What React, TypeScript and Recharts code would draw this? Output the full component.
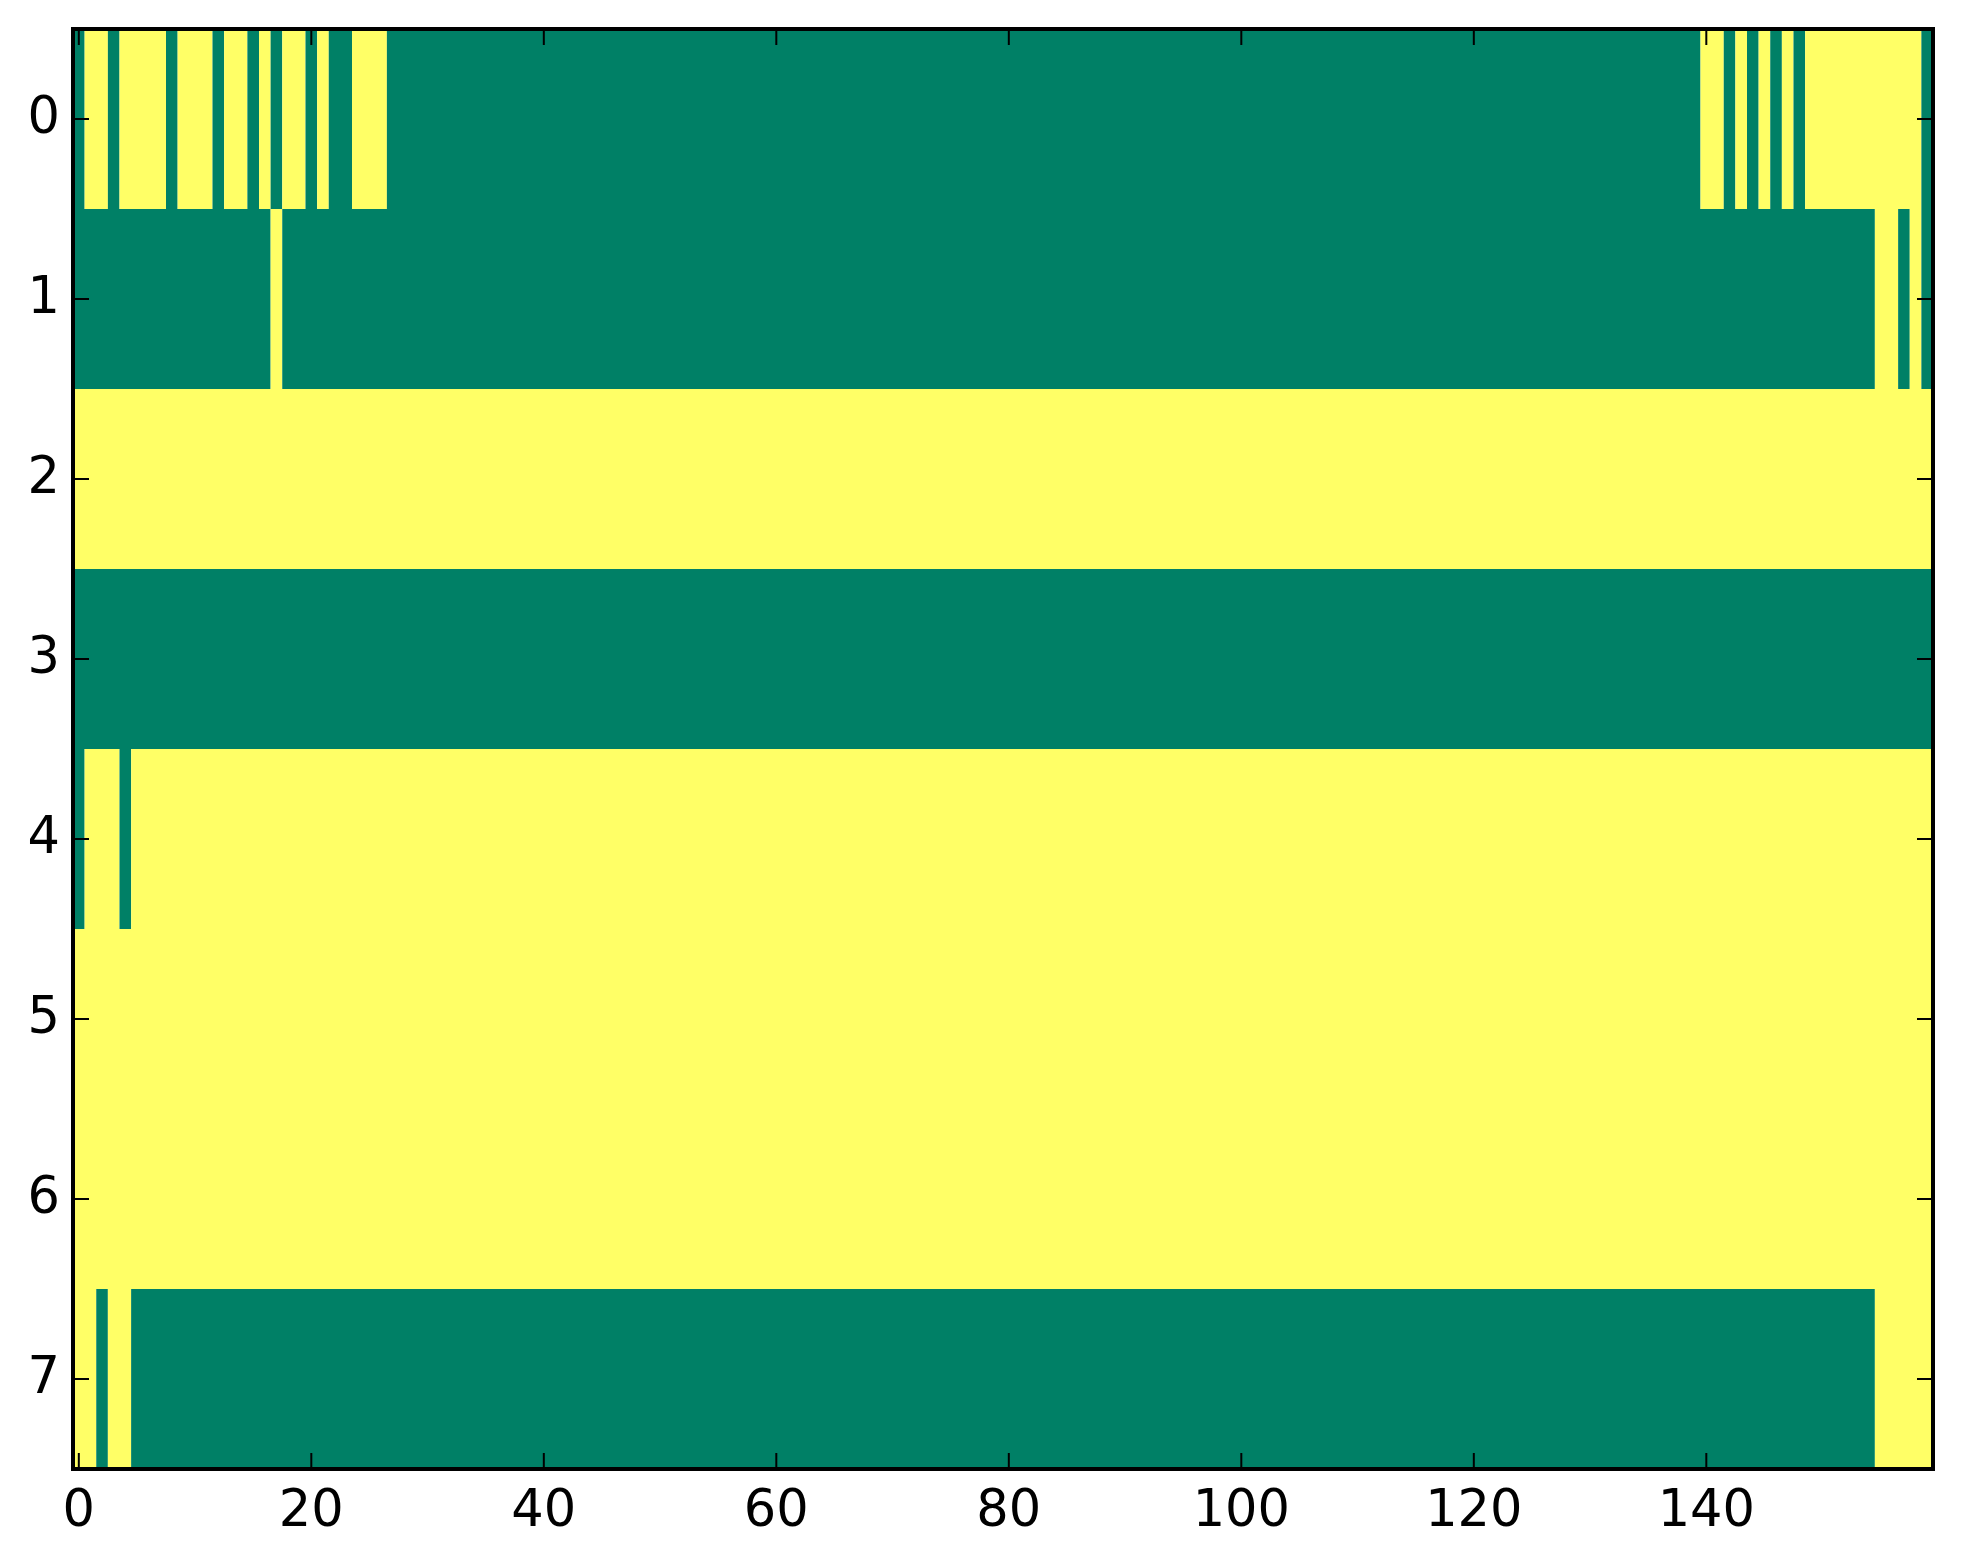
import React from "react";
import {
  ScatterChart, Scatter, XAxis, YAxis, ReferenceArea
} from "recharts";

// binary heatmap, 8 rows x 160 columns, "summer" colours
const GREEN = "#008066";
const YELLOW = "#ffff66";

const xTicks = [0, 20, 40, 60, 80, 100, 120, 140];
const yTicks = [0, 1, 2, 3, 4, 5, 6, 7];

// runs per row: [firstCol, lastCol, value]
const row0 = [
  [0, 0, 0], [1, 2, 1], [3, 3, 0], [4, 7, 1], [8, 8, 0], [9, 11, 1], [12, 12, 0],
  [13, 14, 1], [15, 15, 0], [16, 16, 1], [17, 17, 0], [18, 19, 1], [20, 20, 0],
  [21, 21, 1], [22, 23, 0], [24, 26, 1], [27, 139, 0], [140, 141, 1], [142, 142, 0],
  [143, 143, 1], [144, 144, 0], [145, 145, 1], [146, 146, 0], [147, 147, 1],
  [148, 148, 0], [149, 158, 1], [159, 159, 0],
];
const row1 = [[0, 16, 0], [17, 17, 1], [18, 154, 0], [155, 156, 1], [157, 157, 0], [158, 158, 1], [159, 159, 0]];
const row2 = [[0, 159, 1]];
const row3 = [[0, 159, 0]];
const row4 = [[0, 0, 0], [1, 3, 1], [4, 4, 0], [5, 159, 1]];
const row5 = [[0, 159, 1]];
const row6 = [[0, 159, 1]];
const row7 = [[0, 1, 1], [2, 2, 0], [3, 4, 1], [5, 154, 0], [155, 159, 1]];

const rows = [row0, row1, row2, row3, row4, row5, row6, row7];

const font = "'DejaVu Sans', sans-serif";
const axisLine = { stroke: "#000", strokeWidth: 4 };
const tickLine = { stroke: "#000", strokeWidth: 2 };
// top / right axes only carry tick marks, no labels
const NoLabel = () => <g />;

export default function App() {
  return (
    <div style={{ width: 1947, height: 1548, background: "#fff" }}>
      <ScatterChart width={1947} height={1548} margin={{ top: 20, right: 21, bottom: 0, left: 0 }}>
        {rows.map((runs, r) =>
          runs.map(([a, b, v], i) => (
            <ReferenceArea
              key={`${r}-${i}`}
              x1={a - 0.5}
              x2={b + 0.5}
              y1={r - 0.5}
              y2={r + 0.5}
              fill={v ? YELLOW : GREEN}
              fillOpacity={1}
              stroke="none"
              ifOverflow="visible"
            />
          ))
        )}
        {/* frame round the image */}
        <ReferenceArea
          x1={-0.5}
          x2={159.5}
          y1={-0.5}
          y2={7.5}
          fill="none"
          stroke="#000"
          strokeWidth={4}
          ifOverflow="visible"
        />
        <Scatter data={[]} isAnimationActive={false} />
        <Scatter data={[]} xAxisId="top" yAxisId="right" isAnimationActive={false} />
        <XAxis
          type="number"
          dataKey="x"
          domain={[-0.5, 159.5]}
          allowDataOverflow
          ticks={xTicks}
          interval={0}
          height={87}
          tickSize={-16}
          tickMargin={37}
          axisLine={axisLine}
          tickLine={tickLine}
          tick={{ fill: "#000", fontSize: 51, fontFamily: font }}
        />
        <XAxis
          xAxisId="top"
          orientation="top"
          type="number"
          dataKey="x"
          domain={[-0.5, 159.5]}
          allowDataOverflow
          ticks={xTicks}
          interval={0}
          height={1}
          tickSize={-16}
          axisLine={axisLine}
          tickLine={tickLine}
          tick={NoLabel}
        />
        <YAxis
          type="number"
          dataKey="y"
          domain={[-0.5, 7.5]}
          allowDataOverflow
          reversed
          ticks={yTicks}
          interval={0}
          width={65}
          tickSize={-16}
          tickMargin={29}
          axisLine={axisLine}
          tickLine={tickLine}
          tick={{ fill: "#000", fontSize: 51, fontFamily: font, dy: -4 }}
        />
        <YAxis
          yAxisId="right"
          orientation="right"
          type="number"
          dataKey="y"
          domain={[-0.5, 7.5]}
          allowDataOverflow
          reversed
          ticks={yTicks}
          interval={0}
          width={1}
          tickSize={-16}
          axisLine={axisLine}
          tickLine={tickLine}
          tick={NoLabel}
        />
      </ScatterChart>
    </div>
  );
}
